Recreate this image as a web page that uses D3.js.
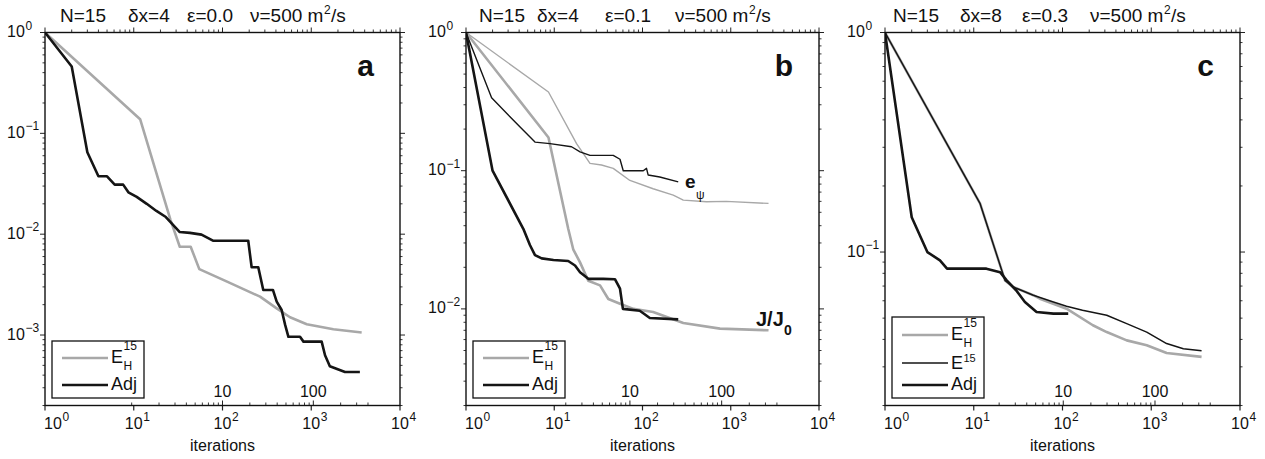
<!DOCTYPE html>
<html>
<head>
<meta charset="utf-8">
<script src="https://cdn.jsdelivr.net/npm/d3@7"></script>
<style>
  body { margin: 0; background: #fff; }
  svg text { font-family: "Liberation Sans", Arial, Helvetica, sans-serif; fill: #111; }
</style>
</head>
<body>
<div id="chart"></div>
<script>
// ---- data: [iterations, normalised value] ----
// panel a
const aHess = [[1,1],[11.8,0.138],[26,0.0138],[33,0.0075],[43.8,0.0075],[54.8,0.0045],[111,0.0034],[265,0.0024],[408,0.00184],[577,0.0015],[890,0.00128],[1775,0.00114],[3700,0.00106]];
const aAdj = [[1,1],[2,0.46],[3,0.065],[4,0.0375],[5,0.0375],[6.1,0.031],[7.6,0.031],[8.7,0.026],[10.8,0.0234],[14,0.02],[18,0.017],[23,0.0148],[33,0.0105],[43,0.0103],[58,0.0099],[79,0.0086],[195,0.0086],[213,0.0047],[253,0.0047],[288,0.0028],[370,0.0028],[408,0.00214],[464,0.00177],[508,0.00126],[553,0.00096],[747,0.00096],[817,0.00086],[1310,0.00086],[1430,0.00063],[1620,0.00049],[2400,0.00043],[3530,0.00043]];
// panel b
const bHessJ = [[1,1],[8.6,0.174],[14.4,0.038],[16.4,0.027],[19.6,0.0217],[24.3,0.016],[33,0.0148],[41,0.0118],[55.6,0.0109],[79,0.01],[132,0.0095],[290,0.0079],[755,0.0072],[2680,0.007]];
const bHessE = [[1,1],[8.6,0.371],[17.9,0.157],[25.4,0.113],[34.3,0.11],[46.6,0.104],[72,0.085],[132,0.074],[223,0.0666],[290,0.0612],[530,0.0596],[890,0.06],[2680,0.058]];
const bAdjJ = [[1,1],[2,0.1],[4.46,0.038],[5.3,0.029],[6.05,0.0245],[7.2,0.0232],[9.8,0.0226],[14.4,0.0222],[17.2,0.0206],[19.6,0.0184],[24.3,0.0165],[35.9,0.0165],[48.7,0.0164],[55.6,0.014],[60,0.01],[93,0.0097],[102,0.0093],[121,0.0086],[254,0.0084]];
const bAdjE = [[1,1],[1.95,0.337],[4.1,0.207],[6.05,0.161],[8.95,0.157],[15.7,0.149],[19.6,0.137],[25.4,0.129],[46.6,0.129],[55.6,0.121],[60.5,0.1],[102,0.1],[111,0.104],[116,0.093],[157,0.09],[254,0.083]];
// panel c
const cHess = [[1,1],[11.8,0.166],[22.5,0.0743],[27.8,0.0693],[46.9,0.0636],[55.6,0.0613],[111,0.0552],[220,0.0464],[315,0.0432],[529,0.0396],[889,0.0376],[1490,0.0347],[3690,0.0333]];
const cFull = [[1,1],[11.8,0.166],[22.5,0.0743],[27.8,0.0693],[46.9,0.0636],[79,0.0592],[111,0.0566],[168,0.0543],[315,0.0515],[529,0.0472],[889,0.0432],[1490,0.0383],[2300,0.0363],[3690,0.0355]];
const cAdj = [[1,1],[2,0.144],[3,0.1],[4.16,0.0916],[5,0.084],[13.9,0.084],[19.8,0.081],[23.5,0.0743],[30,0.067],[37.7,0.0592],[51,0.0533],[79,0.0524],[116,0.0524]];

// axes
const xTickExps = [0, 1, 2, 3, 4];
const yMins = [2e-4, 2e-3, 2e-2];
const panelLetters = ["a", "b", "c"];
const titleParts = [
  ["N=15", "\u03b4x=4", "\u03b5=0.0", "\u03bd=500 m"],
  ["N=15", "\u03b4x=4", "\u03b5=0.1", "\u03bd=500 m"],
  ["N=15", "\u03b4x=8", "\u03b5=0.3", "\u03bd=500 m"]
];
// inner (second) axis: label values and the iteration counts they sit at
const innerLabels = [10, 100];
const innerAnchors = [[100, 1055], [72, 789], [102, 1102]];
const innerStart = [1, 2, 2];

const GRAY = "#a8a8a8", BLACK = "#151515";

const width = 1265, height = 459;
const svg = d3.select("#chart").append("svg")
  .attr("width", width).attr("height", height)
  .attr("viewBox", [0, 0, width, height]);

const layouts = [
  { left: 45, right: 400, titleX: [15, 83, 142, 205] },
  { left: 466, right: 819, titleX: [13, 71, 139, 209] },
  { left: 885, right: 1240, titleX: [8, 75, 137, 205] }
];
const plotTop = 32.5, plotBottom = 405.5;

const series = [
  [
    { data: aHess, color: GRAY, w: 2.6 },
    { data: aAdj, color: BLACK, w: 2.6 }
  ],
  [
    { data: bHessE, color: GRAY, w: 1.4 },
    { data: bHessJ, color: GRAY, w: 2.6 },
    { data: bAdjE, color: BLACK, w: 1.4 },
    { data: bAdjJ, color: BLACK, w: 2.6 }
  ],
  [
    { data: cHess, color: GRAY, w: 2.6 },
    { data: cFull, color: BLACK, w: 1.5 },
    { data: cAdj, color: BLACK, w: 2.6 }
  ]
];

const legends = [
  [{ name: "EH", color: GRAY, w: 2.6 }, { name: "Adj", color: BLACK, w: 2.6 }],
  [{ name: "EH", color: GRAY, w: 2.6 }, { name: "Adj", color: BLACK, w: 2.6 }],
  [{ name: "EH", color: GRAY, w: 2.6 }, { name: "E", color: BLACK, w: 1.5 }, { name: "Adj", color: BLACK, w: 2.6 }]
];

const sup = (n) => (n < 0 ? "\u2212" + -n : "" + n);

layouts.forEach((L, i) => {
  const g = svg.append("g");
  const x = d3.scaleLog().domain([1, 1e4]).range([L.left, L.right]);
  const y = d3.scaleLog().domain([yMins[i], 1]).range([plotBottom, plotTop]);

  // title
  const tp = titleParts[i];
  let lastTitle;
  tp.forEach((t, k) => {
    lastTitle = g.append("text").attr("x", L.left + L.titleX[k]).attr("y", 22)
      .attr("font-size", 19).text(t);
  });
  const bb = lastTitle.node().getBBox();
  g.append("text").attr("x", bb.x + bb.width + 0.5).attr("y", 14).attr("font-size", 12).text("2");
  g.append("text").attr("x", bb.x + bb.width + 7.5).attr("y", 22).attr("font-size", 19).text("/s");

  // minor ticks, log x, top (outward)
  const xMinor = [];
  for (let e = 0; e < 4; e++) for (let m = 2; m <= 9; m++) xMinor.push(m * Math.pow(10, e));
  g.append("g").selectAll("line").data(xMinor).join("line")
    .attr("x1", (d) => x(d)).attr("x2", (d) => x(d))
    .attr("y1", plotTop).attr("y2", plotTop - 3)
    .attr("stroke", "#222").attr("stroke-width", 0.9);
  g.append("g").selectAll("line").data(xTickExps).join("line")
    .attr("x1", (d) => x(Math.pow(10, d))).attr("x2", (d) => x(Math.pow(10, d)))
    .attr("y1", plotTop).attr("y2", plotTop - 5)
    .attr("stroke", "#222").attr("stroke-width", 1);
  // bottom major ticks (outward)
  g.append("g").selectAll("line").data(xTickExps).join("line")
    .attr("x1", (d) => x(Math.pow(10, d))).attr("x2", (d) => x(Math.pow(10, d)))
    .attr("y1", plotBottom).attr("y2", plotBottom + 5)
    .attr("stroke", "#222").attr("stroke-width", 1.2);

  // y ticks, both sides
  const lo = Math.round(Math.log10(yMins[i]) - 0.5);
  const yMajor = [], yMinor = [];
  for (let e = lo; e <= 0; e++) {
    const p = Math.pow(10, e);
    if (p >= yMins[i] && p <= 1) yMajor.push(p);
    for (let m = 2; m <= 9; m++) {
      const v = m * p;
      if (v >= yMins[i] * 0.999 && v < 1) yMinor.push(v);
    }
  }
  [[L.left, -1], [L.right, 1]].forEach(([xx, s]) => {
    g.append("g").selectAll("line").data(yMinor).join("line")
      .attr("x1", xx).attr("x2", xx + s * 2.5)
      .attr("y1", (d) => y(d)).attr("y2", (d) => y(d))
      .attr("stroke", "#222").attr("stroke-width", 0.9);
    g.append("g").selectAll("line").data(yMajor).join("line")
      .attr("x1", xx).attr("x2", xx + s * 5)
      .attr("y1", (d) => y(d)).attr("y2", (d) => y(d))
      .attr("stroke", "#222").attr("stroke-width", 1);
  });

  // y labels
  yMajor.forEach((v) => {
    const e = Math.round(Math.log10(v));
    const t = g.append("text").attr("x", L.left - 38).attr("y", y(v) + 4.5)
      .attr("font-size", 16).text("10");
    const b = t.node().getBBox();
    g.append("text").attr("x", b.x + b.width + 0.5).attr("y", y(v) - 3)
      .attr("font-size", 12).text(sup(e));
  });

  // x labels
  xTickExps.forEach((e, k) => {
    const px = x(Math.pow(10, e));
    const t = g.append("text").attr("y", 429).attr("font-size", 16).text("10");
    if (k === 0) t.attr("x", px - 1);
    else t.attr("x", px).attr("text-anchor", "middle");
    const b = t.node().getBBox();
    g.append("text").attr("x", b.x + b.width + 0.5).attr("y", 421)
      .attr("font-size", 12).text(sup(e));
  });
  g.append("text").attr("x", (L.left + L.right) / 2).attr("y", 451)
    .attr("text-anchor", "middle").attr("font-size", 16).text("iterations");

  // inner secondary axis
  const inner = d3.scaleLog().domain(innerLabels)
    .range(innerAnchors[i].map((d) => x(d)));
  const innerTicks = [];
  for (let m = innerStart[i]; m <= 9; m++) innerTicks.push(m);
  for (let m = 2; m <= 9; m++) innerTicks.push(m * 10);
  for (let m = 2; m <= 4; m++) innerTicks.push(m * 100);
  g.append("g").selectAll("line").data(innerTicks).join("line")
    .attr("x1", (d) => inner(d)).attr("x2", (d) => inner(d))
    .attr("y1", plotBottom).attr("y2", plotBottom - 3)
    .attr("stroke", "#222").attr("stroke-width", 0.9);
  g.append("g").selectAll("line").data(innerLabels).join("line")
    .attr("x1", (d) => inner(d)).attr("x2", (d) => inner(d))
    .attr("y1", plotBottom).attr("y2", plotBottom - 5)
    .attr("stroke", "#222").attr("stroke-width", 1);
  g.append("g").selectAll("text").data(innerLabels).join("text")
    .attr("x", (d) => inner(d)).attr("y", 397)
    .attr("text-anchor", "middle").attr("font-size", 16).text((d) => d);

  // curves
  const line = d3.line().x((d) => x(d[0])).y((d) => y(d[1]));
  const clipId = "clip" + i;
  svg.append("clipPath").attr("id", clipId).append("rect")
    .attr("x", L.left).attr("y", plotTop).attr("width", L.right - L.left).attr("height", plotBottom - plotTop);
  const cg = g.append("g").attr("clip-path", `url(#${clipId})`);
  series[i].forEach((s) => {
    cg.append("path").datum(s.data).attr("d", line)
      .attr("fill", "none").attr("stroke", s.color).attr("stroke-width", s.w)
      .attr("stroke-linejoin", "round");
  });

  // frame
  g.append("rect").attr("x", L.left).attr("y", plotTop)
    .attr("width", L.right - L.left).attr("height", plotBottom - plotTop)
    .attr("fill", "none").attr("stroke", "#111").attr("stroke-width", 1.4);

  // panel letter
  g.append("text").attr("x", L.right - 26).attr("y", 76)
    .attr("text-anchor", "end").attr("font-size", 30).attr("font-weight", "bold")
    .text(panelLetters[i]);

  // legend
  const items = legends[i];
  const boxTop = items.length === 3 ? 317 : 341;
  const lg = g.append("g");
  lg.append("rect").attr("x", L.left + 7).attr("y", boxTop)
    .attr("width", 92).attr("height", 398 - boxTop)
    .attr("fill", "#fff").attr("stroke", "#111").attr("stroke-width", 1.3);
  const rowsY = items.length === 3 ? [335, 363, 385] : [358, 385];
  items.forEach((it, k) => {
    const ly = rowsY[k];
    lg.append("line").attr("x1", L.left + 17).attr("x2", L.left + 63)
      .attr("y1", ly).attr("y2", ly)
      .attr("stroke", it.color).attr("stroke-width", it.w);
    const tx = L.left + 66;
    if (it.name === "Adj") {
      lg.append("text").attr("x", tx).attr("y", ly + 5).attr("font-size", 18).text("Adj");
    } else if (it.name === "EH") {
      lg.append("text").attr("x", tx).attr("y", ly + 5).attr("font-size", 18).text("E");
      lg.append("text").attr("x", tx + 12.5).attr("y", ly - 8).attr("font-size", 12).text("15");
      lg.append("text").attr("x", tx + 12.5).attr("y", ly + 12).attr("font-size", 12).text("H");
    } else {
      lg.append("text").attr("x", tx).attr("y", ly + 6).attr("font-size", 18).text("E");
      lg.append("text").attr("x", tx + 12.5).attr("y", ly - 1).attr("font-size", 11).text("15");
    }
  });

  // curve labels in panel b
  if (i === 1) {
    g.append("text").attr("x", 685).attr("y", 188).attr("font-size", 19)
      .attr("font-weight", "bold").text("e");
    g.append("text").attr("x", 696).attr("y", 199).attr("font-size", 12).text("\u03c8");
    g.append("text").attr("x", 756).attr("y", 326).attr("font-size", 20)
      .attr("font-weight", "bold").text("J/J");
    g.append("text").attr("x", 784).attr("y", 335).attr("font-size", 14)
      .attr("font-weight", "bold").text("0");
  }
});
</script>
</body>
</html>
